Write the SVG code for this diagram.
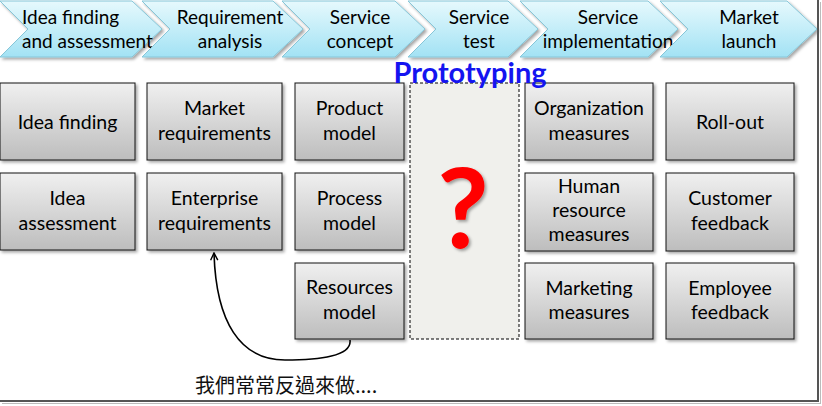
<svg xmlns="http://www.w3.org/2000/svg" width="822" height="406" viewBox="0 0 822 406">
<defs>
<linearGradient id="gChev" x1="0" y1="0" x2="0" y2="1">
<stop offset="0" stop-color="#e6f9fd"/>
<stop offset="1" stop-color="#a2e2f4"/>
</linearGradient>
<linearGradient id="gBox" x1="0" y1="0" x2="0" y2="1">
<stop offset="0" stop-color="#f0f0f0"/>
<stop offset="1" stop-color="#bdbdbd"/>
</linearGradient>
<filter id="sh" x="-10%" y="-10%" width="130%" height="130%">
<feDropShadow dx="2" dy="2" stdDeviation="1.5" flood-color="#000" flood-opacity="0.35"/>
</filter>
<marker id="arr" viewBox="0 0 10 10" refX="9" refY="5" markerWidth="9" markerHeight="9" orient="auto" markerUnits="userSpaceOnUse">
<path d="M1,1 L9,5 L1,9" fill="none" stroke="#000" stroke-width="1.6"/>
</marker>
<style>
.chev{fill:url(#gChev);stroke:#86c6d8;stroke-width:1;filter:url(#sh)}
.ct{font-family:Lato,"Liberation Sans",sans-serif;font-size:19px;fill:#000;text-anchor:middle}
.box{fill:url(#gBox);stroke:#111;stroke-width:1;filter:url(#sh)}
.bt{font-family:Lato,"Liberation Sans",sans-serif;font-size:19.5px;fill:#000;text-anchor:middle}
</style>
</defs>
<rect width="822" height="406" fill="#fff"/>

<g id="chevron1">
<path class="chev" d="M0,1 L132,1 L162,29 L132,57 L0,57 L28,29 Z"/>
<text class="ct" x="22" y="24" style="text-anchor:start">Idea finding</text>
<text class="ct" x="22" y="48" style="text-anchor:start">and assessment</text>
</g>
<g id="chevron2">
<path class="chev" d="M142,1 L273,1 L303,29 L273,57 L142,57 L170,29 Z"/>
<text class="ct" x="230" y="24">Requirement</text>
<text class="ct" x="230" y="48">analysis</text>
</g>
<g id="chevron3">
<path class="chev" d="M282,1 L395,1 L425,29 L395,57 L282,57 L310,29 Z"/>
<text class="ct" x="360" y="24">Service</text>
<text class="ct" x="360" y="48">concept</text>
</g>
<g id="chevron4">
<path class="chev" d="M408,1 L508,1 L538,29 L508,57 L408,57 L436,29 Z"/>
<text class="ct" x="479" y="24">Service</text>
<text class="ct" x="479" y="48">test</text>
</g>
<g id="chevron5">
<path class="chev" d="M520,1 L648,1 L678,29 L648,57 L520,57 L548,29 Z"/>
<text class="ct" x="608" y="24">Service</text>
<text class="ct" x="608" y="48">implementation</text>
</g>
<g id="chevron6">
<path class="chev" d="M660,1 L787,1 L817,29 L787,57 L660,57 L688,29 Z"/>
<text class="ct" x="749" y="24">Market</text>
<text class="ct" x="749" y="48">launch</text>
</g>

<g id="idea-finding"><rect class="box" x="0" y="83" width="135" height="77"/><text class="bt" x="67.5" y="129">Idea finding</text></g>
<g id="idea-assessment"><rect class="box" x="0" y="173" width="135" height="77"/><text class="bt" x="67.5" y="205">Idea</text><text class="bt" x="67.5" y="230">assessment</text></g>

<g id="market-req"><rect class="box" x="147" y="83" width="135" height="77"/><text class="bt" x="214.5" y="115">Market</text><text class="bt" x="214.5" y="140">requirements</text></g>
<g id="enterprise-req"><rect class="box" x="147" y="173" width="135" height="77"/><text class="bt" x="214.5" y="205">Enterprise</text><text class="bt" x="214.5" y="230">requirements</text></g>

<g id="product-model"><rect class="box" x="295" y="83" width="109" height="77"/><text class="bt" x="349.5" y="115">Product</text><text class="bt" x="349.5" y="140">model</text></g>
<g id="process-model"><rect class="box" x="295" y="173" width="109" height="77"/><text class="bt" x="349.5" y="205">Process</text><text class="bt" x="349.5" y="230">model</text></g>
<g id="resources-model"><rect class="box" x="295" y="263" width="109" height="76"/><text class="bt" x="349.5" y="294">Resources</text><text class="bt" x="349.5" y="319">model</text></g>

<g id="prototyping-box">
<rect x="410" y="83" width="109" height="256" fill="#f0f0ec" stroke="#000" stroke-width="1" stroke-dasharray="3,2"/>
<text x="463" y="248" font-family="Lato,'Liberation Sans',sans-serif" font-size="112" font-weight="bold" fill="#ff0000" text-anchor="middle" filter="url(#sh)">?</text>
</g>

<g id="organization-measures"><rect class="box" x="525" y="83" width="128" height="77"/><text class="bt" x="589" y="115">Organization</text><text class="bt" x="589" y="140">measures</text></g>
<g id="hr-measures"><rect class="box" x="525" y="173" width="128" height="78"/><text class="bt" x="589" y="193">Human</text><text class="bt" x="589" y="217">resource</text><text class="bt" x="589" y="241">measures</text></g>
<g id="marketing-measures"><rect class="box" x="525" y="263" width="128" height="76"/><text class="bt" x="589" y="295">Marketing</text><text class="bt" x="589" y="319">measures</text></g>

<g id="roll-out"><rect class="box" x="666" y="83" width="128" height="77"/><text class="bt" x="730" y="129">Roll-out</text></g>
<g id="customer-feedback"><rect class="box" x="666" y="173" width="128" height="78"/><text class="bt" x="730" y="205">Customer</text><text class="bt" x="730" y="230">feedback</text></g>
<g id="employee-feedback"><rect class="box" x="666" y="263" width="128" height="76"/><text class="bt" x="730" y="295">Employee</text><text class="bt" x="730" y="319">feedback</text></g>

<g id="connectors">
<path d="M350,340 C352,356 320,360 285,360 C240,360 216,322 214,253" fill="none" stroke="#000" stroke-width="1.6" marker-end="url(#arr)"/>
</g>

<g id="prototyping-label">
<text x="470" y="83" font-family="Lato,'Liberation Sans',sans-serif" font-size="29" font-weight="bold" fill="#1414f0" text-anchor="middle">Prototyping</text>
</g>

<text x="195" y="393" font-family="'Noto Sans CJK TC','Noto Sans CJK SC',sans-serif" font-size="20" fill="#111">我們常常反過來做....</text>

<g id="frame">
<line x1="818" y1="0" x2="818" y2="402" stroke="#555" stroke-width="2"/>
<line x1="0" y1="401" x2="819" y2="401" stroke="#555" stroke-width="2"/>
<line x1="820.5" y1="2" x2="820.5" y2="404" stroke="#bbb" stroke-width="1"/>
<line x1="2" y1="403.5" x2="821" y2="403.5" stroke="#bbb" stroke-width="1"/>
</g>
</svg>
